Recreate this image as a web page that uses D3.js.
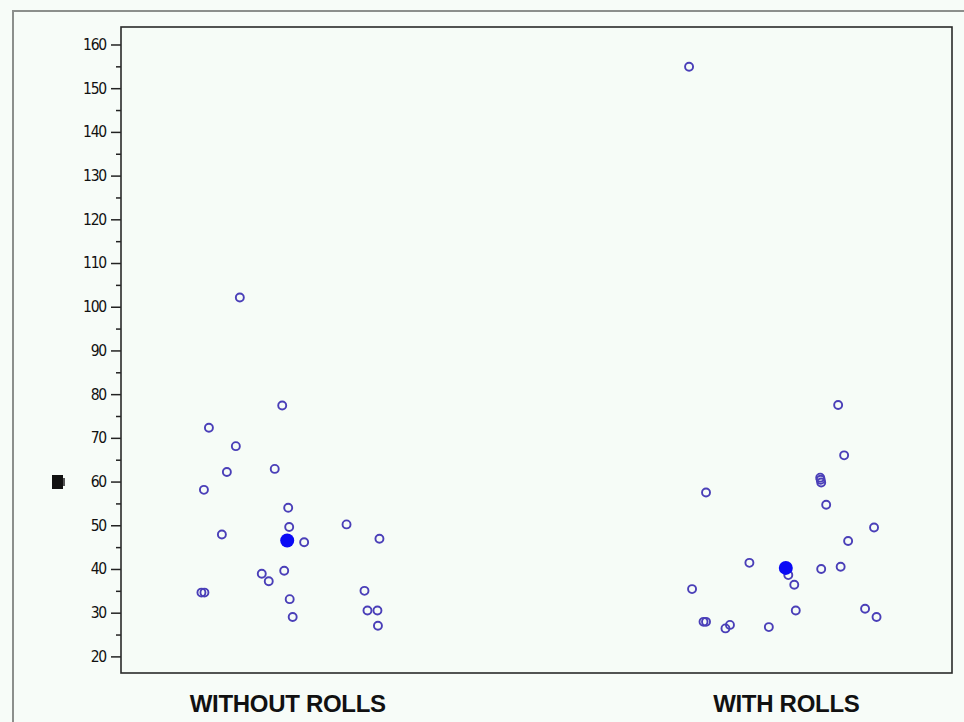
<!DOCTYPE html>
<html>
<head>
<meta charset="utf-8">
<script src="https://cdn.jsdelivr.net/npm/d3@7"></script>
<style>
  html, body { margin: 0; padding: 0; background: #f7fcf8; }
  svg { display: block; }
</style>
</head>
<body>
<svg id="chart" width="964" height="722"></svg>
<script>
// Groups shown along the x axis
const categories = ["WITHOUT ROLLS", "WITH ROLLS"];

// Observations per group
const withoutRollsValues = [102.1, 77.4, 72.3, 68.1, 62.2, 62.9, 58.1, 54.0, 49.6, 46.1, 47.9, 50.2,
  46.9, 39.6, 38.9, 37.2, 34.6, 34.6, 33.1, 29.0, 35.0, 30.5, 30.5, 27.0];
const withRollsValues = [154.9, 77.5, 66.0, 60.9, 60.4, 59.8, 57.5, 54.7, 49.5, 46.4, 41.4, 38.6,
  40.0, 40.5, 36.4, 35.4, 30.5, 30.9, 29.0, 27.9, 27.9, 27.2, 26.4, 26.7];

// Horizontal jitter of each observation, as a fraction of the category step
const withoutRollsJitter = [-0.095, -0.010, -0.157, -0.103, -0.121, -0.025, -0.167, 0.002, 0.004, 0.034,
  -0.131, 0.119, 0.185, -0.006, -0.051, -0.037, -0.172, -0.166, 0.005, 0.011, 0.155, 0.161, 0.181, 0.182];
const withRollsJitter = [-0.194, 0.105, 0.117, 0.069, 0.070, 0.071, -0.160, 0.081, 0.177, 0.125, -0.073,
  0.005, 0.071, 0.110, 0.017, -0.188, 0.020, 0.159, 0.182, -0.165, -0.160, -0.112, -0.121, -0.034];

// Y axis ticks
const majorTicks = [20, 30, 40, 50, 60, 70, 80, 90, 100, 110, 120, 130, 140, 150, 160];
const minorTicks = [25, 35, 45, 55, 65, 75, 85, 95, 105, 115, 125, 135, 145, 155];

const groups = [
  { name: categories[0], values: withoutRollsValues, jitter: withoutRollsJitter },
  { name: categories[1], values: withRollsValues, jitter: withRollsJitter }
];

const svg = d3.select("#chart");
const plot = { left: 121, right: 952, top: 27, bottom: 673 };

const x = d3.scalePoint().domain(categories).range([plot.left, plot.right]).padding(1 / 3);
const y = d3.scaleLinear().domain([16.2, 164]).range([plot.bottom, plot.top]);

// Outer panel frame
svg.append("path")
  .attr("d", `M13,722 V11 H964`)
  .attr("fill", "none")
  .attr("stroke", "#8c8f8c")
  .attr("stroke-width", 2);

// Plot area
svg.append("rect")
  .attr("x", plot.left).attr("y", plot.top)
  .attr("width", plot.right - plot.left).attr("height", plot.bottom - plot.top)
  .attr("fill", "#f6fcf7");

// Y axis with major labelled ticks
const yAxis = d3.axisLeft(y).tickValues(majorTicks).tickSize(10).tickPadding(5).tickFormat(d3.format("d"));
const gy = svg.append("g").attr("transform", `translate(${plot.left},0)`).call(yAxis);
gy.select(".domain").remove();
gy.selectAll(".tick line").attr("stroke", "#222").attr("stroke-width", 1.5);
gy.selectAll(".tick text")
  .attr("fill", "#111")
  .style("font-family", "'DejaVu Sans Condensed', 'DejaVu Sans', sans-serif")
  .style("font-size", "15.5px")
  .style("letter-spacing", "-1.2px");

// Minor ticks
const yMinor = d3.axisLeft(y).tickValues(minorTicks).tickSize(5).tickFormat("");
const gm = svg.append("g").attr("transform", `translate(${plot.left},0)`).call(yMinor);
gm.select(".domain").remove();
gm.selectAll(".tick line").attr("stroke", "#222").attr("stroke-width", 1.5);

// Plot frame
svg.append("rect")
  .attr("x", plot.left).attr("y", plot.top)
  .attr("width", plot.right - plot.left).attr("height", plot.bottom - plot.top)
  .attr("fill", "none")
  .attr("stroke", "#2a2a2a")
  .attr("stroke-width", 1.6);

// X axis category labels
const xAxis = d3.axisBottom(x).tickSize(0).tickPadding(22);
const gx = svg.append("g").attr("transform", `translate(0,${plot.bottom})`).call(xAxis);
gx.select(".domain").remove();
gx.selectAll(".tick text")
  .attr("fill", "#111")
  .style("font-family", "'Liberation Sans', Arial, sans-serif")
  .style("font-weight", "bold")
  .style("font-size", "24px")
  .style("letter-spacing", "-0.3px");

// Y axis title glyph
const yTitle = svg.append("g").attr("transform", "translate(52,475)");
yTitle.append("rect").attr("width", 11).attr("height", 14).attr("fill", "#111");
yTitle.append("rect").attr("x", 11).attr("y", 3).attr("width", 2).attr("height", 8).attr("fill", "#555");

// Jittered observations
const step = x.step();
groups.forEach(g => {
  svg.append("g").selectAll("circle")
    .data(g.values.map((v, i) => ({ v, j: g.jitter[i] })))
    .join("circle")
    .attr("cx", d => x(g.name) + d.j * step)
    .attr("cy", d => y(d.v))
    .attr("r", 4)
    .attr("fill", "none")
    .attr("stroke", "#4a3fb8")
    .attr("stroke-width", 1.9);
});

// Group medians
svg.append("g").selectAll("circle")
  .data(groups)
  .join("circle")
  .attr("cx", g => x(g.name))
  .attr("cy", g => y(d3.median(g.values)))
  .attr("r", 7)
  .attr("fill", "#0a0af5");
</script>
</body>
</html>
